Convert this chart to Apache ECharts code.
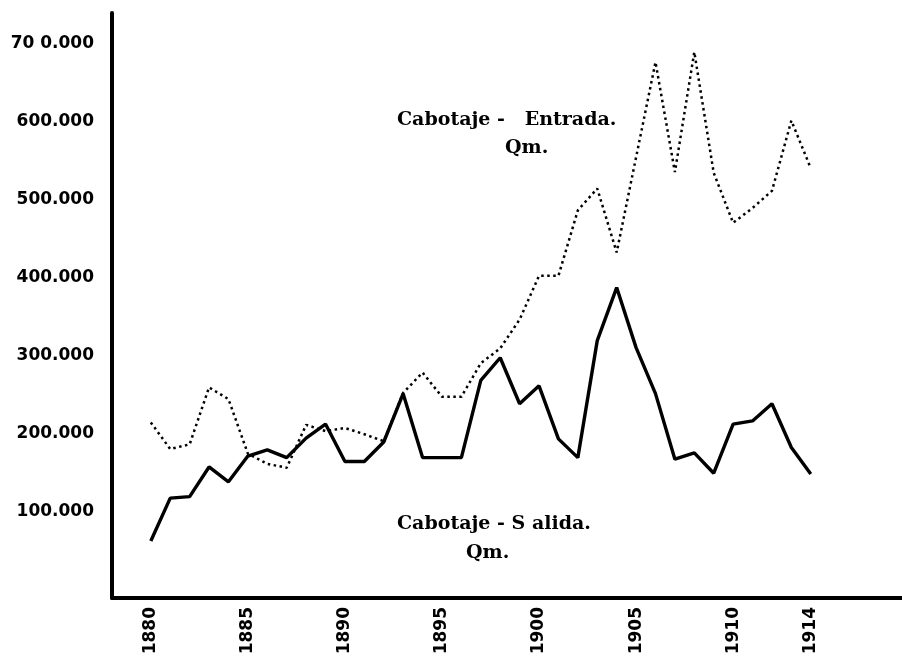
<!DOCTYPE html>
<html>
<head>
<meta charset="utf-8">
<script src="https://cdn.jsdelivr.net/npm/echarts@6/dist/echarts.min.js"></script>
<style>html,body{margin:0;padding:0;background:#fff}#c{width:902px;height:658px}</style>
</head>
<body>
<div id="c"></div>
<script>
const years = [1880,1881,1882,1883,1884,1885,1886,1887,1888,1889,1890,1891,1892,1893,1894,1895,1896,1897,1898,1899,1900,1901,1902,1903,1904,1905,1906,1907,1908,1909,1910,1911,1912,1913,1914];
const entrada = [225000,191000,197000,270000,255000,185000,172000,167000,222000,214000,218000,210000,201000,263000,289000,258000,258000,301000,320000,357000,413000,413000,497000,525000,443000,565000,687000,546000,700000,545000,481000,500000,522000,612000,551000];
const salida = [73000,128000,130000,168000,149000,182000,190000,180000,205000,223000,175000,175000,200000,262000,180000,180000,180000,279000,308000,249000,272000,204000,180000,330000,398000,321000,262000,178000,186000,160000,223000,227000,249000,193000,159000];
const xTickYears = [1880,1885,1890,1895,1900,1905,1910,1914];
const yTickValues = [100000,200000,300000,400000,500000,600000,700000];
const yTickLabels = ['100.000','200.000','300.000','400.000','500.000','600.000','70 0.000'];
const entradaLabel = ['Cabotaje -   Entrada.', 'Qm.'];
const salidaLabel = ['Cabotaje - S alida.', 'Qm.'];

const chart = echarts.init(document.getElementById('c'));
const labelFont = {fontFamily:'DejaVu Serif', fontWeight:'bold', fontSize:19, fill:'#000'};
chart.setOption({
  animation:false,
  backgroundColor:'#fff',
  grid:{left:112, right:0, top:13, bottom:60},
  xAxis:{
    type:'value', min:1878, max:1918.7, interval:1,
    splitLine:{show:false},
    axisLine:{show:true, onZero:false, lineStyle:{color:'#000', width:4}},
    axisTick:{show:false},
    axisLabel:{
      rotate:90, margin:9, color:'#000', fontFamily:'DejaVu Sans', fontWeight:'bold', fontSize:17,
      showMaxLabel:false, showMinLabel:false,
      formatter:function(v){ return xTickYears.indexOf(Math.round(v))>=0 && Math.abs(v-Math.round(v))<1e-6 ? String(Math.round(v)) : ''; }
    }
  },
  yAxis:{
    type:'value', min:0, max:750000, interval:100000,
    splitLine:{show:false},
    axisLine:{show:true, lineStyle:{color:'#000', width:4}},
    axisTick:{show:false},
    axisLabel:{
      color:'#000', fontFamily:'DejaVu Sans', fontWeight:'bold', fontSize:17, margin:18,
      verticalAlign:'bottom', showMaxLabel:false,
      formatter:function(v){ const i = yTickValues.indexOf(v); return i>=0 ? yTickLabels[i] : ''; }
    }
  },
  series:[
    {type:'line', name:'Entrada', data:years.map((y,i)=>[y,entrada[i]]), symbol:'none',
     lineStyle:{color:'#000', width:2.5, type:[2.5,3.5]}},
    {type:'line', name:'Salida', data:years.map((y,i)=>[y,salida[i]]), symbol:'none',
     lineStyle:{color:'#000', width:3.4}}
  ],
  graphic:[
    {type:'text', left:397, top:111, style:Object.assign({text:entradaLabel[0]}, labelFont)},
    {type:'text', left:505, top:139, style:Object.assign({text:entradaLabel[1]}, labelFont)},
    {type:'text', left:397, top:515, style:Object.assign({text:salidaLabel[0]}, labelFont)},
    {type:'text', left:466, top:544, style:Object.assign({text:salidaLabel[1]}, labelFont)}
  ]
});
</script>
</body>
</html>
